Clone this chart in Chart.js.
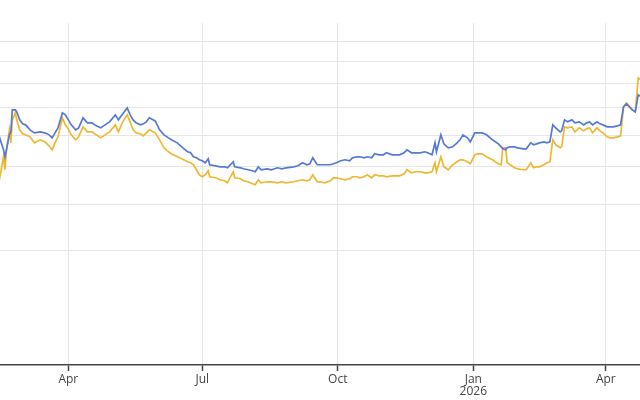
<!DOCTYPE html>
<html>
<head>
<meta charset="utf-8">
<script src="https://cdn.jsdelivr.net/npm/chart.js@4/dist/chart.umd.min.js"></script>
<style>
  html, body { margin: 0; padding: 0; background: #ffffff; }
  #wrap { width: 640px; height: 400px; }
</style>
</head>
<body>
<div id="wrap"><canvas id="c" width="640" height="400"></canvas></div>
<script>
// ---- data ----
const dates = [
  '2025-02-13','2025-02-16','2025-02-17','2025-02-18','2025-02-20','2025-02-21','2025-02-22','2025-02-24','2025-02-25','2025-02-27',
  '2025-03-01','2025-03-03','2025-03-06','2025-03-09','2025-03-13','2025-03-16','2025-03-19','2025-03-21','2025-03-23','2025-03-25',
  '2025-03-28','2025-03-30','2025-04-01','2025-04-03','2025-04-06','2025-04-08','2025-04-11','2025-04-14','2025-04-17','2025-04-20',
  '2025-04-23','2025-04-26','2025-04-29','2025-05-03','2025-05-05','2025-05-08','2025-05-11','2025-05-13','2025-05-15','2025-05-17',
  '2025-05-20','2025-05-22','2025-05-24','2025-05-26','2025-05-30','2025-06-02','2025-06-05','2025-06-08','2025-06-10','2025-06-14',
  '2025-06-17','2025-06-21','2025-06-23','2025-06-25','2025-06-27','2025-06-29','2025-07-01','2025-07-03','2025-07-05','2025-07-06',
  '2025-07-10','2025-07-13','2025-07-16','2025-07-18','2025-07-22','2025-07-23','2025-07-27','2025-07-29','2025-08-01','2025-08-04',
  '2025-08-06','2025-08-08','2025-08-10','2025-08-14','2025-08-17','2025-08-21','2025-08-24','2025-08-27','2025-09-01','2025-09-04',
  '2025-09-07','2025-09-10','2025-09-12','2025-09-14','2025-09-17','2025-09-19','2025-09-22','2025-09-26','2025-09-28','2025-09-30',
  '2025-10-03','2025-10-06','2025-10-09','2025-10-11','2025-10-14','2025-10-16','2025-10-19','2025-10-21','2025-10-24','2025-10-26',
  '2025-10-29','2025-11-01','2025-11-03','2025-11-07','2025-11-09','2025-11-12','2025-11-15','2025-11-17','2025-11-20','2025-11-23',
  '2025-11-26','2025-11-29','2025-12-01','2025-12-04','2025-12-06','2025-12-07','2025-12-10','2025-12-12','2025-12-15','2025-12-18',
  '2025-12-21','2025-12-23','2025-12-25','2025-12-28','2025-12-30','2026-01-02','2026-01-04','2026-01-07','2026-01-10','2026-01-14',
  '2026-01-18','2026-01-20','2026-01-21','2026-01-23','2026-01-24','2026-01-26','2026-01-29','2026-01-31','2026-02-04','2026-02-06',
  '2026-02-09','2026-02-11','2026-02-13','2026-02-15','2026-02-18','2026-02-20','2026-02-22','2026-02-24','2026-02-26','2026-03-01',
  '2026-03-02','2026-03-04','2026-03-06','2026-03-09','2026-03-11','2026-03-14','2026-03-17','2026-03-19','2026-03-21','2026-03-23',
  '2026-03-26','2026-03-28','2026-03-30','2026-04-02','2026-04-04','2026-04-06','2026-04-09','2026-04-11','2026-04-13','2026-04-15',
  '2026-04-19','2026-04-21','2026-04-23','2026-04-25'
];

const blueValues = [
  69.73,65.17,63.01,65.17,70.07,71.09,79.07,79.07,78.31,75.34,
  73.90,73.54,71.78,70.75,71.09,70.75,70.07,69.06,70.75,72.48,
  77.93,77.18,75.34,73.54,71.78,72.48,76.07,74.25,74.25,73.19,
  72.48,73.54,74.61,77.18,75.34,77.56,79.84,77.18,75.34,74.25,
  73.54,73.90,74.61,76.07,74.97,71.78,70.07,69.06,68.40,67.41,
  66.12,64.55,64.24,63.01,62.70,62.10,61.80,61.21,62.40,60.62,
  60.32,60.03,60.03,59.74,61.50,60.03,59.74,59.45,59.17,58.88,
  58.60,60.03,59.17,59.45,59.17,59.74,59.45,59.74,60.03,60.32,
  61.21,60.62,60.91,62.70,60.62,60.62,60.62,60.62,60.91,61.21,
  61.80,62.10,61.80,62.70,63.01,63.01,62.70,63.01,62.70,63.93,
  63.62,63.62,64.24,63.62,63.62,63.62,64.24,65.17,64.24,64.24,
  64.24,64.55,64.24,63.62,67.41,64.55,70.07,67.09,65.81,66.12,
  67.41,68.40,70.07,69.06,67.74,70.75,70.75,70.75,70.07,68.40,
  67.09,66.12,65.49,65.17,65.81,66.12,66.12,65.81,65.49,65.49,
  67.41,66.77,67.09,67.41,67.74,67.41,67.74,73.54,72.48,71.09,
  71.44,75.34,74.61,75.34,74.25,74.61,73.54,74.25,74.61,73.54,
  74.61,73.90,73.54,72.83,72.83,72.83,73.19,73.54,80.23,81.40,
  79.07,78.31,85.03,84.21
];

const yellowValues = [
  55.83,63.01,59.17,65.17,71.78,67.41,75.34,77.93,75.34,71.78,
  70.41,70.07,69.40,67.41,68.40,67.74,66.44,65.17,67.41,69.40,
  76.07,73.54,72.13,70.07,68.40,69.40,72.83,71.09,71.09,70.07,
  69.06,70.07,71.09,73.54,71.09,74.61,77.18,74.61,71.78,70.75,
  70.41,69.73,70.75,71.78,70.75,68.40,65.81,64.55,63.93,63.01,
  62.40,61.50,61.21,60.62,59.17,57.75,57.20,57.75,58.88,57.20,
  56.92,56.37,56.10,55.56,58.60,56.92,56.65,56.10,55.83,55.30,
  55.03,56.37,55.56,55.83,55.83,55.56,55.83,55.56,55.83,56.10,
  56.37,56.10,56.37,57.75,55.83,55.83,55.56,56.10,56.92,56.92,
  56.65,56.37,56.65,57.20,57.20,56.92,57.20,57.75,56.92,57.75,
  57.47,57.47,57.20,57.47,57.47,57.47,58.03,59.17,58.31,58.60,
  58.60,58.31,58.31,58.60,61.21,58.60,63.01,60.03,59.17,60.62,
  61.50,62.10,62.10,61.50,60.91,63.62,63.93,63.93,63.01,62.10,
  60.91,60.62,65.81,65.81,61.21,60.62,59.74,59.45,59.17,59.17,
  61.21,59.74,60.03,60.03,60.62,61.21,61.50,68.40,66.77,65.81,
  66.12,72.83,72.48,72.83,71.09,72.48,71.44,72.13,72.48,70.75,
  72.48,71.44,70.75,69.40,69.06,69.06,69.40,69.73,80.23,81.80,
  79.07,78.31,92.30,91.41
];

const gridValues = [40, 50, 60, 70, 80, 90, 100, 110];
const tickDates = ['2025-04-01', '2025-07-01', '2025-10-01', '2026-01-01', '2026-04-01'];
const monthNames = ['Jan','Feb','Mar','Apr','May','Jun','Jul','Aug','Sep','Oct','Nov','Dec'];
const xRange = ['2025-02-13T15:00:00Z', '2026-04-24T05:00:00Z'];
const yRange = [23, 120.4];

// ---- helpers ----
const DAY = 86400000;
const dayNum = s => Date.parse(s.length === 10 ? s + 'T00:00:00Z' : s) / DAY;

const blueSeries = dates.map((d, i) => ({ x: dayNum(d), y: blueValues[i] }));
const yellowSeries = dates.map((d, i) => ({ x: dayNum(d), y: yellowValues[i] }));
const tickDays = tickDates.map(dayNum);

new Chart(document.getElementById('c'), {
  type: 'line',
  data: {
    datasets: [
      { label: 'Series A', data: blueSeries, borderColor: '#5579d4', borderWidth: 1.7,
        pointRadius: 0, tension: 0, fill: false },
      { label: 'Series B', data: yellowSeries, borderColor: '#f0b731', borderWidth: 1.7,
        pointRadius: 0, tension: 0, fill: false }
    ]
  },
  options: {
    responsive: false,
    animation: false,
    layout: { padding: { top: 23, bottom: 2, left: 0, right: 0 } },
    plugins: { legend: { display: false }, tooltip: { enabled: false } },
    scales: {
      x: {
        type: 'linear',
        min: dayNum(xRange[0]),
        max: dayNum(xRange[1]),
        afterBuildTicks: s => { s.ticks = tickDays.map(v => ({ value: v })); },
        afterFit: s => { s.height = 33; },
        ticks: {
          autoSkip: false, maxRotation: 0, padding: 3, color: '#444',
          font: { family: '"Open Sans", sans-serif', size: 12, lineHeight: 1.0 },
          callback: v => {
            const d = new Date(v * DAY);
            const m = monthNames[d.getUTCMonth()];
            return d.getUTCMonth() === 0 ? [m, String(d.getUTCFullYear())] : m;
          }
        },
        grid: { color: '#e6e6e6', lineWidth: 1, tickLength: 6, tickColor: '#444', tickWidth: 1.5 },
        border: { display: true, color: '#444', width: 1.5 }
      },
      y: {
        type: 'logarithmic',
        min: yRange[0],
        max: yRange[1],
        afterBuildTicks: s => { s.ticks = gridValues.map(v => ({ value: v })); },
        afterFit: s => { s.width = 0; },
        ticks: { display: false },
        grid: { color: '#e6e6e6', lineWidth: 1, drawTicks: false },
        border: { display: false }
      }
    }
  }
});
</script>
</body>
</html>
